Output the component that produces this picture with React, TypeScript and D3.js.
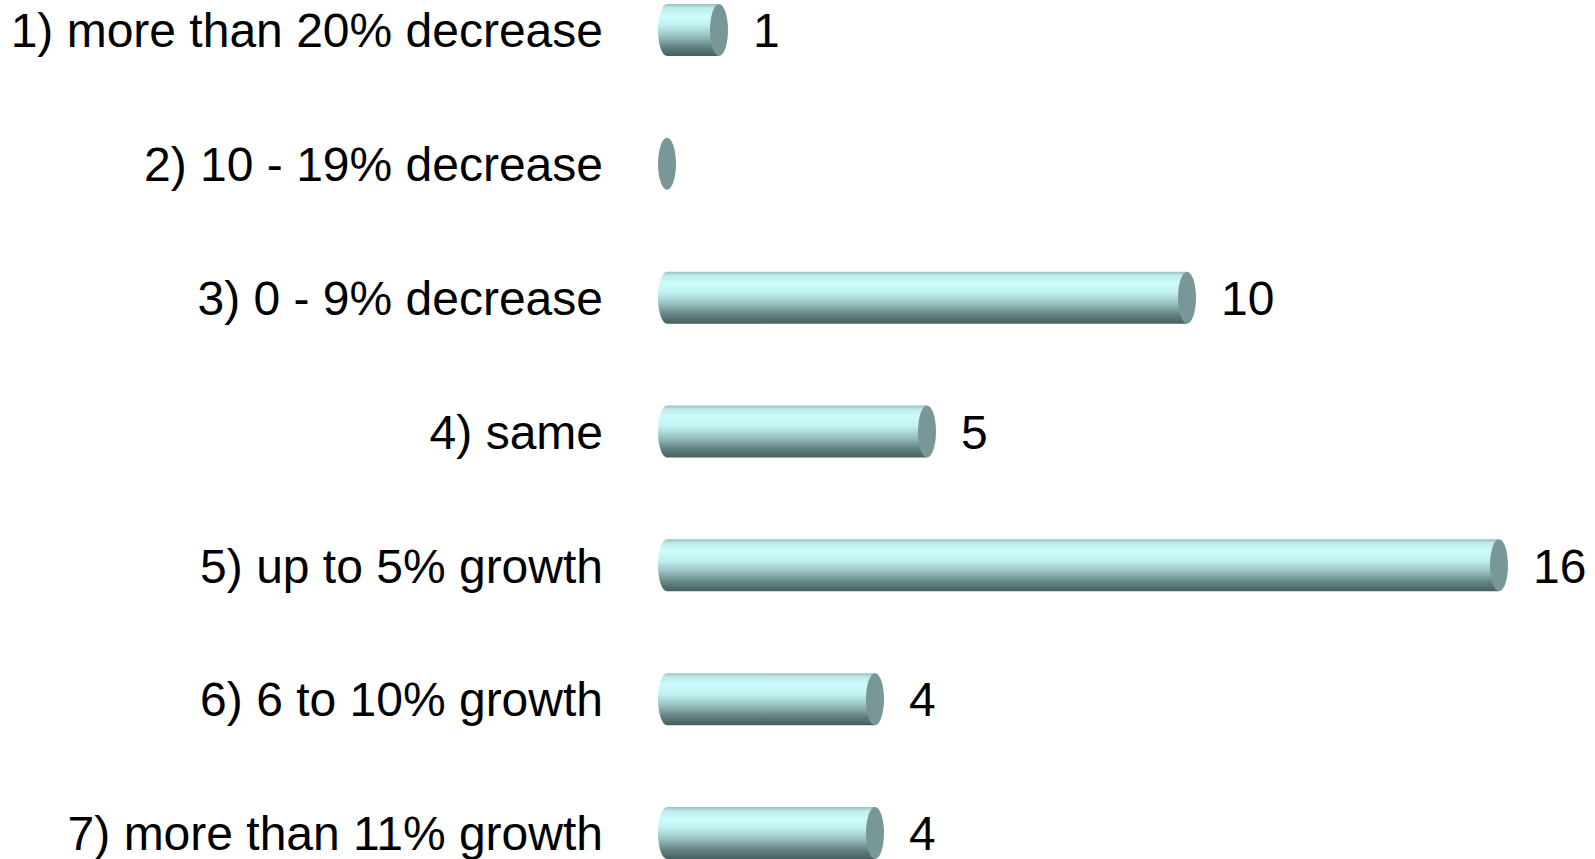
import React, { useEffect, useRef } from 'react';
import * as d3 from 'd3';

const categories: string[] = [
  '1) more than 20% decrease',
  '2) 10 - 19% decrease',
  '3) 0 - 9% decrease',
  '4) same',
  '5) up to 5% growth',
  '6) 6 to 10% growth',
  '7) more than 11% growth',
];

const values: number[] = [1, 0, 10, 5, 16, 4, 4];

export default function App() {
  const ref = useRef<SVGSVGElement>(null);

  useEffect(() => {
    if (!ref.current) return;
    const svg = d3.select(ref.current);
    svg.selectAll('*').remove();

    const width = 1595;
    const height = 859;
    const rx = 9;
    const barH = 52;
    const ry = barH / 2;
    const font = '"Liberation Sans", Arial, sans-serif';

    const x = d3.scaleLinear().domain([0, 16]).range([667, 1499]);
    const y = d3.scalePoint<string>().domain(categories).range([30, 833]);

    // cylinder body gradient
    const defs = svg.append('defs');
    const grad = defs.append('linearGradient')
      .attr('id', 'cyl')
      .attr('x1', 0).attr('y1', 0).attr('x2', 0).attr('y2', 1);
    [
      ['0%', '#98bebe'],
      ['7%', '#bde9e9'],
      ['22%', '#ccfcfc'],
      ['40%', '#c2f1f1'],
      ['62%', '#98c0c0'],
      ['82%', '#648484'],
      ['100%', '#465e5e'],
    ].forEach(([o, c]) => grad.append('stop').attr('offset', o).attr('stop-color', c));

    const g = svg.append('g');

    // category labels
    g.selectAll('text.cat')
      .data(categories)
      .enter().append('text')
      .attr('class', 'cat')
      .attr('x', 603)
      .attr('y', d => y(d)!)
      .attr('dy', '0.36em')
      .attr('text-anchor', 'end')
      .attr('font-family', font)
      .attr('font-size', 48)
      .attr('fill', '#000')
      .text(d => d);

    const rows = categories.map((c, i) => ({ c, v: values[i] }));

    // bodies
    g.selectAll('path.body')
      .data(rows.filter(d => d.v > 0))
      .enter().append('path')
      .attr('class', 'body')
      .attr('fill', 'url(#cyl)')
      .attr('d', d => {
        const cy = y(d.c)!;
        const x0 = x(0);
        const x1 = x(d.v);
        return `M${x0},${cy - ry}L${x1},${cy - ry}L${x1},${cy + ry}L${x0},${cy + ry}` +
          `A${rx},${ry} 0 0 1 ${x0},${cy - ry}Z`;
      });

    // end caps
    g.selectAll('ellipse.cap')
      .data(rows)
      .enter().append('ellipse')
      .attr('class', 'cap')
      .attr('cx', d => x(d.v))
      .attr('cy', d => y(d.c)!)
      .attr('rx', rx)
      .attr('ry', ry)
      .attr('fill', '#7a9797');

    // value labels
    g.selectAll('text.val')
      .data(rows.filter(d => d.v > 0))
      .enter().append('text')
      .attr('class', 'val')
      .attr('x', d => x(d.v) + rx + 25)
      .attr('y', d => y(d.c)!)
      .attr('dy', '0.36em')
      .attr('font-family', font)
      .attr('font-size', 48)
      .attr('fill', '#000')
      .text(d => d.v);

    svg.attr('width', width).attr('height', height);
  }, []);

  return (
    <svg
      ref={ref}
      width={1595}
      height={859}
      style={{ position: 'absolute', left: 0, top: 0, background: '#fff' }}
    />
  );
}
